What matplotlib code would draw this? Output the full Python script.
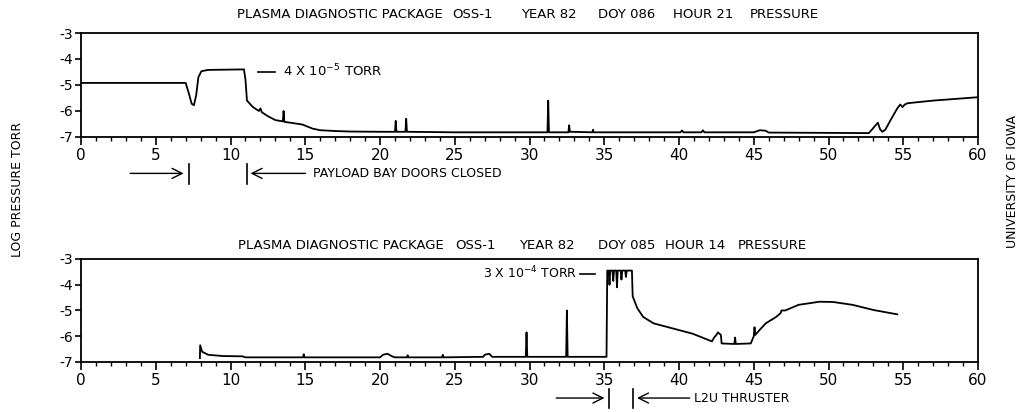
import numpy as np
import matplotlib
matplotlib.use("Agg")
import matplotlib.pyplot as plt
from matplotlib.ticker import MultipleLocator

# top panel: DOY 086 hour 21 (minutes, log pressure torr)
top_minutes = [0, 7.0, 7.2, 7.4, 7.55, 7.7, 7.85, 8.05, 8.5, 10.9,
               11.0, 11.1, 11.5, 11.9, 12.0, 12.1, 12.5, 13.0, 13.5, 13.55,
               13.6, 14.0, 14.8, 15.5, 16.0, 17.0, 18.0, 20.0, 21.0, 21.05,
               21.1, 21.7, 21.75, 21.8, 25.0, 31.2, 31.25, 31.3, 32.6, 32.65,
               32.7, 34.2, 34.25, 34.3, 40.1, 40.2, 40.3, 41.5, 41.6, 41.7,
               45.0, 45.4, 45.8, 46.0, 52.7, 53.0, 53.3, 53.45, 53.6, 53.8,
               54.2, 54.6, 54.8, 54.95, 55.1, 55.3, 57.0, 60.0]
top_logp = [-4.92, -4.92, -5.3, -5.72, -5.78, -5.4, -4.7, -4.47, -4.42, -4.40,
            -4.8, -5.6, -5.85, -6.0, -5.9, -6.05, -6.2, -6.35, -6.4, -6.0,
            -6.42, -6.45, -6.52, -6.68, -6.74, -6.77, -6.79, -6.8, -6.8, -6.38,
            -6.8, -6.8, -6.3, -6.8, -6.82, -6.82, -5.6, -6.82, -6.82, -6.55,
            -6.8, -6.82, -6.72, -6.82, -6.82, -6.75, -6.82, -6.82, -6.74, -6.82,
            -6.82, -6.74, -6.76, -6.83, -6.85, -6.65, -6.45, -6.7, -6.8, -6.72,
            -6.3, -5.9, -5.75, -5.85, -5.75, -5.7, -5.6, -5.47]

# bottom panel: DOY 085 hour 14
bot_minutes = [7.95, 7.97, 8.1, 8.5, 9.5, 10.8, 11.0, 14.85, 14.9, 14.95,
               20.0, 20.2, 20.5, 20.8, 21.0, 21.8, 21.85, 21.9, 24.15, 24.2,
               24.25, 26.9, 27.0, 27.3, 27.5, 29.75, 29.8, 29.85, 32.45, 32.5,
               32.55, 35.15, 35.2, 35.3, 35.35, 35.4, 35.55, 35.6, 35.65, 35.8,
               35.85, 35.9, 36.1, 36.15, 36.2, 36.4, 36.45, 36.5, 36.85, 36.9,
               37.2, 37.6, 38.3, 39.6, 40.9, 42.2, 42.35, 42.5, 42.6, 42.8,
               42.85, 43.7, 43.75, 43.8, 44.8, 45.0, 45.05, 45.1, 45.4, 45.8,
               46.5, 46.8, 46.85, 47.1, 48.0, 49.4, 50.3, 51.6, 53.0, 54.6]
bot_logp = [-6.85, -6.35, -6.6, -6.72, -6.77, -6.78, -6.82, -6.82, -6.7, -6.82,
            -6.82, -6.72, -6.68, -6.78, -6.82, -6.82, -6.74, -6.82, -6.82, -6.72,
            -6.82, -6.8, -6.72, -6.68, -6.8, -6.8, -5.85, -6.8, -6.8, -5.0,
            -6.8, -6.8, -3.45, -3.45, -4.0, -3.45, -3.45, -3.85, -3.45, -3.45,
            -4.1, -3.45, -3.45, -3.8, -3.45, -3.45, -3.7, -3.45, -3.45, -4.45,
            -4.9, -5.25, -5.5, -5.7, -5.9, -6.2, -6.05, -5.95, -5.85, -5.95,
            -6.28, -6.3, -6.05, -6.3, -6.28, -6.0, -5.65, -5.95, -5.75, -5.5,
            -5.25, -5.1, -5.0, -5.0, -4.78, -4.66, -4.67, -4.78, -4.98, -5.15]

ytick_vals = [-3, -4, -5, -6, -7]

top_title = ["PLASMA DIAGNOSTIC PACKAGE", "OSS-1", "YEAR 82", "DOY 086", "HOUR 21", "PRESSURE"]
bot_title = ["PLASMA DIAGNOSTIC PACKAGE", "OSS-1", "YEAR 82", "DOY 085", "HOUR 14", "PRESSURE"]

plt.rcParams['font.family'] = ['DejaVu Sans']

W, H = 1027, 412
fig = plt.figure(figsize=(W / 100, H / 100), dpi=100)
ax1 = fig.add_axes([0.0789, 0.6675, 0.8734, 0.2524])
ax2 = fig.add_axes([0.0789, 0.1214, 0.8734, 0.25])


def style_axis(ax):
    ax.set_xlim(0, 60)
    ax.set_ylim(-7, -3)
    ax.set_yticks(ytick_vals)
    ax.set_yticklabels([str(v) for v in ytick_vals])
    ax.xaxis.set_major_locator(MultipleLocator(5))
    ax.xaxis.set_minor_locator(MultipleLocator(1))
    ax.tick_params(axis='x', which='major', direction='out', length=6, width=1.2,
                   labelsize=11, pad=2)
    ax.tick_params(axis='x', which='minor', direction='out', length=3, width=1.0)
    ax.tick_params(axis='y', direction='out', length=4, width=1.2, labelsize=10, pad=2)
    for s in ax.spines.values():
        s.set_linewidth(1.3)


style_axis(ax1)
style_axis(ax2)

ax1.plot(top_minutes, top_logp, color='black', lw=1.3)
ax2.plot(bot_minutes, bot_logp, color='black', lw=1.3)

# titles, word groups centred where the lettering sits on the original
top_x = [339.5, 472.5, 548.5, 626.5, 703.5, 784]
bot_x = [340.5, 475, 547, 626.5, 695, 772.5]
for txt, px in zip(top_title, top_x):
    fig.text(px / W, 1 - 15 / H, txt, ha='center', va='center', fontsize=9.5)
for txt, px in zip(bot_title, bot_x):
    fig.text(px / W, 1 - 246 / H, txt, ha='center', va='center', fontsize=9.5)

# side labels
fig.text(0.0166, 0.54, "LOG PRESSURE TORR", rotation=90, ha='center', va='center', fontsize=9)
fig.text(0.986, 0.56, "UNIVERSITY OF IOWA", rotation=90, ha='center', va='center', fontsize=9)

# top annotations
ax1.plot([11.85, 12.95], [-4.5, -4.5], color='black', lw=1.2, clip_on=False)
ax1.text(13.5, -4.45, r"4 X 10$^{-5}$ TORR", ha='left', va='center', fontsize=9.5)
ax1.annotate('', xy=(7.05, -8.4), xytext=(3.1, -8.4), annotation_clip=False,
             arrowprops=dict(arrowstyle='->', lw=1.0, color='black', mutation_scale=18))
ax1.plot([7.2, 7.2], [-8.05, -8.8], color='black', lw=1.2, clip_on=False)
ax1.annotate('', xy=(11.15, -8.4), xytext=(15.2, -8.4), annotation_clip=False,
             arrowprops=dict(arrowstyle='->', lw=1.0, color='black', mutation_scale=18))
ax1.plot([11.1, 11.1], [-8.05, -8.8], color='black', lw=1.2, clip_on=False)
ax1.text(15.5, -8.4, "PAYLOAD BAY DOORS CLOSED", ha='left', va='center', fontsize=9)

# bottom annotations
ax2.text(33.2, -3.55, r"3 X 10$^{-4}$ TORR", ha='right', va='center', fontsize=9)
ax2.plot([33.4, 34.4], [-3.6, -3.6], color='black', lw=1.2, clip_on=False)
ax2.annotate('', xy=(35.2, -8.4), xytext=(31.6, -8.4), annotation_clip=False,
             arrowprops=dict(arrowstyle='->', lw=1.0, color='black', mutation_scale=18))
ax2.plot([35.3, 35.3], [-8.05, -8.8], color='black', lw=1.2, clip_on=False)
ax2.annotate('', xy=(37.0, -8.4), xytext=(40.9, -8.4), annotation_clip=False,
             arrowprops=dict(arrowstyle='->', lw=1.0, color='black', mutation_scale=18))
ax2.plot([36.9, 36.9], [-8.05, -8.8], color='black', lw=1.2, clip_on=False)
ax2.text(41.0, -8.4, "L2U THRUSTER", ha='left', va='center', fontsize=9)

fig.savefig("out.png", dpi=100)
